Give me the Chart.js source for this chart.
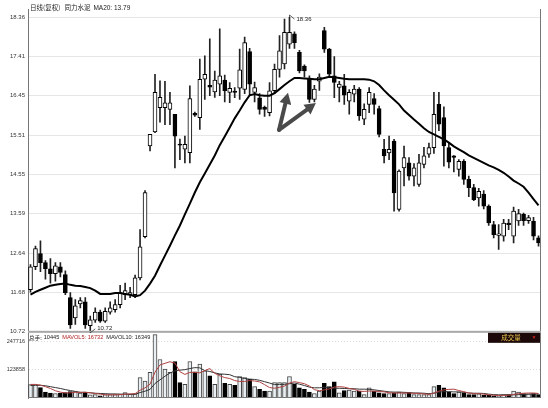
<!DOCTYPE html>
<html><head><meta charset="utf-8">
<script src="https://cdn.jsdelivr.net/npm/chart.js@4/dist/chart.umd.min.js"></script>
<style>html,body{margin:0;padding:0;background:#fff;}canvas{display:block;}</style>
</head><body>
<canvas id="c" width="548" height="408"></canvas>
<script>
// ---- data ----
const monthLabels = ['01','02','03','04','05','06'];
const monthStarts = [0, 18, 33, 56, 74, 95];
const priceTicks = [10.72, 11.675, 12.63, 13.585, 14.54, 15.495, 16.45, 17.405, 18.36];
const priceTickLabels = ['10.72','11.68','12.64','13.59','14.55','15.51','16.45','17.41','18.36'];
const volTicks = [123858, 247716];
const volTickLabels = ['123858','247716'];

const opens = [11.74,12.30,12.62,12.40,12.25,12.13,12.30,12.11,11.55,11.06,11.40,11.45,10.87,11.00,11.20,10.98,11.20,11.26,11.38,11.62,11.62,11.62,12.03,13.03,
15.23,15.57,16.16,16.16,16.12,16.00,15.27,15.15,15.07,16.02,15.92,16.85,16.70,16.54,16.73,16.83,16.53,16.56,16.63,16.60,17.52,16.53,16.40,16.17,16.04,16.57,17.09,17.22,17.70,17.95,17.50,17.17,16.85,16.36,16.80,18.03,17.58,16.93,16.65,16.69,16.32,16.49,16.61,15.88,16.24,16.38,16.14,15.15,15.06,15.35,13.69,14.70,14.82,14.50,14.30,14.78,15.03,15.19,16.24,15.92,15.19,14.99,14.66,14.86,14.42,14.22,13.97,14.06,13.77,13.32,13.06,13.04,13.36,13.04,13.41,13.57,13.42,13.40,13.00];
const highs = [12.35,12.80,12.93,12.45,12.50,12.40,12.40,12.20,11.67,11.50,11.55,11.55,11.10,11.30,11.25,11.30,11.45,11.50,11.85,11.90,11.80,12.10,13.20,14.15,
15.51,16.97,16.81,16.80,16.53,16.00,15.40,15.47,16.69,16.05,17.34,17.42,17.83,17.05,18.07,16.95,16.77,16.65,17.58,17.87,17.60,16.78,16.50,16.20,16.77,17.22,17.91,18.31,18.36,18.00,17.55,17.20,16.93,16.70,16.98,18.11,17.60,17.40,16.80,16.97,16.60,16.70,16.65,16.25,16.65,16.50,16.20,15.39,15.47,15.39,14.65,15.23,14.95,14.80,15.03,15.20,15.30,16.53,16.53,16.18,15.30,15.00,14.90,14.90,14.50,14.30,14.20,14.15,13.80,13.40,13.32,13.45,13.45,13.75,13.69,13.60,13.55,13.50,13.05];
const lows = [11.68,12.23,12.18,12.00,11.90,11.95,12.05,11.62,10.80,10.90,11.30,10.80,10.72,10.95,10.95,10.95,11.15,11.20,11.30,11.50,11.55,11.55,11.98,13.00,
15.11,15.55,15.81,15.75,15.75,14.70,14.90,14.82,14.82,15.95,15.63,16.36,16.45,16.41,16.45,16.30,16.28,16.40,16.36,16.50,16.45,16.30,16.00,15.95,15.96,16.50,16.90,17.10,17.60,17.60,17.00,16.90,16.29,16.30,16.58,17.50,16.90,16.40,16.30,16.24,16.00,16.30,15.85,15.75,16.04,16.00,15.45,14.82,14.90,13.65,13.65,14.26,14.40,14.26,14.25,14.70,14.95,15.05,15.60,14.74,14.70,14.60,14.50,14.30,14.00,13.90,13.77,13.70,13.30,13.00,12.72,12.92,13.20,12.88,13.30,13.30,13.35,12.95,12.80];
const closes = [12.30,12.74,12.40,12.25,12.13,12.32,12.16,11.67,10.89,11.35,11.48,10.89,11.01,11.20,10.98,11.22,11.30,11.38,11.67,11.72,11.67,12.03,12.78,14.10,
15.51,16.53,16.41,16.28,16.28,15.47,15.25,15.27,16.38,15.98,16.85,16.97,16.66,16.83,16.93,16.57,16.63,16.53,17.08,17.74,16.73,16.65,16.12,16.12,16.57,17.09,17.54,17.99,17.99,17.74,17.05,17.05,16.36,16.61,16.90,17.58,16.97,16.77,16.73,16.46,16.53,16.61,15.96,16.12,16.53,16.24,15.51,14.99,15.15,14.09,14.62,14.95,14.50,14.70,14.82,14.99,15.19,16.00,15.76,15.23,14.84,14.95,14.86,14.42,14.22,13.93,14.13,13.77,13.36,13.08,13.10,13.36,13.32,13.65,13.59,13.42,13.49,13.04,12.88];
const ma20 = [11.62,11.69,11.74,11.79,11.84,11.86,11.88,11.89,11.86,11.84,11.83,11.81,11.78,11.72,11.64,11.64,11.64,11.66,11.66,11.64,11.62,11.58,11.61,11.72,
11.89,12.08,12.33,12.57,12.81,13.06,13.30,13.57,13.83,14.10,14.35,14.56,14.78,15.00,15.25,15.46,15.68,15.90,16.09,16.29,16.46,16.49,16.46,16.45,16.45,16.51,16.61,16.71,16.80,16.88,16.88,16.87,16.86,16.85,16.85,16.88,16.91,16.90,16.88,16.86,16.85,16.85,16.85,16.85,16.84,16.80,16.71,16.58,16.46,16.35,16.24,16.09,15.98,15.87,15.77,15.66,15.57,15.51,15.45,15.39,15.31,15.22,15.15,15.08,15.00,14.94,14.88,14.82,14.76,14.71,14.65,14.58,14.49,14.39,14.32,14.24,14.10,13.94,13.79];
const volumes = [59000,59000,46000,26000,22000,20000,22000,24000,28000,28000,22000,26000,14000,15000,10000,15000,15000,15000,17000,24000,17000,20000,90000,75000,
113000,280000,170000,128000,113000,161000,68000,60000,161000,116000,150000,120000,98000,60000,105000,65000,60000,56000,95000,90000,83000,50000,38000,30000,30000,68000,68000,68000,95000,60000,45000,38000,26000,20000,30000,65000,50000,71000,23000,33000,35000,30000,30000,15000,45000,30000,23000,20000,20000,23000,26000,20000,23000,15000,15000,15000,15000,50000,56000,45000,26000,20000,26000,23000,15000,15000,18000,12000,12000,10000,10000,15000,15000,30000,26000,20000,18000,20000,15000];
const mavol5 = [60000,60000,57000,50000,42000,32000,26000,22000,23000,25000,25000,25000,23000,20000,17000,14000,14000,14000,15000,17000,18000,19000,34000,45000,
61000,114000,146000,153000,160000,154000,116000,104000,113000,113000,111000,121000,130000,109000,98000,90000,86000,77000,73000,73000,77000,75000,71000,59000,46000,43000,47000,53000,66000,72000,68000,63000,53000,37000,32000,36000,40000,48000,50000,48000,42000,38000,30000,29000,31000,30000,29000,27000,23000,22000,22000,22000,22000,21000,20000,18000,16000,22000,30000,36000,38000,39000,33000,28000,22000,20000,19000,17000,14000,12000,11000,12000,12000,16000,19000,21000,22000,22000,20000];
const mavol10 = [55000,56000,56000,54000,50000,46000,42000,37000,33000,29000,25000,25000,23000,21000,20000,19000,18000,18000,17000,17000,16000,16000,24000,30000,
38000,64000,80000,96000,110000,120000,123000,125000,130000,134000,133000,121000,117000,111000,106000,105000,103000,94000,91000,86000,83000,82000,78000,72000,66000,59000,60000,60000,63000,66000,61000,55000,48000,45000,45000,47000,45000,43000,43000,42000,41000,41000,39000,39000,38000,36000,33000,30000,27000,26000,26000,25000,24000,22000,22000,21000,19000,21000,26000,28000,28000,27000,27000,25000,22000,21000,21000,20000,17000,15000,14000,14000,14000,14000,15000,16000,17000,18000,18000];
// annotation arrows (index, price)
const arrowFrom = [49.9, 15.62];
const arrowTips = [[51.7, 16.52], [57.3, 16.27]];

// ---- derived for the library ----
const labels = closes.map((_, i) => String(i + 1));
const up = closes.map((c, i) => c >= opens[i]);
const bodyData = opens.map((o, i) => [Math.min(o, closes[i]), Math.max(o, closes[i])]);
const wickData = lows.map((l, i) => [l, highs[i]]);
const FONT = "'Liberation Sans', Arial, sans-serif";
const CJK = "'Noto Sans CJK SC', 'Liberation Sans', sans-serif";

const decor = {
  id: 'decor',
  afterDraw(chart) {
    const ctx = chart.ctx, ca = chart.chartArea;
    const xs = chart.scales.x, ys = chart.scales.y, yv = chart.scales.yv;
    ctx.save();
    ctx.strokeStyle = '#777'; ctx.lineWidth = 1;
    ctx.beginPath();
    ctx.moveTo(ca.left + 0.5, 9); ctx.lineTo(ca.left + 0.5, ca.top);
    ctx.moveTo(ca.right - 0.5, 9); ctx.lineTo(ca.right - 0.5, ca.bottom);
    ctx.moveTo(ca.left, ca.bottom - 0.5); ctx.lineTo(ca.right, ca.bottom - 0.5);
    ctx.stroke();
    ctx.fillStyle = '#a8a8a8';
    ctx.fillRect(ca.left, yv.top - 1, ca.right - ca.left, 2);

    ctx.textBaseline = 'middle'; ctx.textAlign = 'left';
    ctx.fillStyle = '#222';
    let x = ca.left + 2;
    ctx.font = '6.5px ' + CJK;
    ctx.fillText('日线(复权)', x, 8); x += ctx.measureText('日线(复权)').width + 4;
    ctx.fillText('同力水泥', x, 8); x += ctx.measureText('同力水泥').width + 3;
    ctx.font = '6.5px ' + FONT;
    ctx.fillText('MA20: 13.79', x, 8.5);

    const vy = yv.top + 6;
    x = ca.left + 1;
    ctx.font = '5.6px ' + CJK; ctx.fillStyle = '#222';
    ctx.fillText('总手:', x, vy); x += ctx.measureText('总手:').width + 2;
    ctx.font = '5.6px ' + FONT;
    ctx.fillText('10445', x, vy); x += ctx.measureText('10445').width + 3;
    ctx.fillStyle = '#b02020';
    ctx.fillText('MAVOL5: 16732', x, vy); x += ctx.measureText('MAVOL5: 16732').width + 3;
    ctx.fillStyle = '#222';
    ctx.fillText('MAVOL10: 16349', x, vy);

    ctx.fillStyle = '#1c0808';
    ctx.fillRect(ca.right - 53, yv.top + 1, 52, 10);
    ctx.fillStyle = '#e8c850'; ctx.font = '6.5px ' + CJK; ctx.textAlign = 'center';
    ctx.fillText('成交量', ca.right - 30, yv.top + 6);
    ctx.fillStyle = '#d02020'; ctx.font = '5px ' + FONT;
    ctx.fillText('▼', ca.right - 7, yv.top + 6);

    let hi = 0, lo = 0;
    highs.forEach((h, i) => { if (h > highs[hi]) hi = i; });
    lows.forEach((l, i) => { if (l < lows[lo]) lo = i; });
    ctx.strokeStyle = '#333'; ctx.lineWidth = 0.8; ctx.fillStyle = '#222';
    ctx.font = '6px ' + FONT; ctx.textAlign = 'left';
    let px = xs.getPixelForValue(hi), py = ys.getPixelForValue(highs[hi]);
    ctx.beginPath(); ctx.moveTo(px, py); ctx.lineTo(px, py - 2); ctx.lineTo(px + 5, py + 2); ctx.stroke();
    ctx.fillText(highs[hi].toFixed(2), px + 7, py + 2);
    px = xs.getPixelForValue(lo); py = ys.getPixelForValue(lows[lo]);
    ctx.beginPath(); ctx.moveTo(px, py); ctx.lineTo(px, py + 1); ctx.lineTo(px + 5, py - 3); ctx.stroke();
    ctx.fillText(lows[lo].toFixed(2), px + 7, py - 3);

    const ox = xs.getPixelForValue(arrowFrom[0]), oy = ys.getPixelForValue(arrowFrom[1]);
    ctx.strokeStyle = '#4a4a4a'; ctx.fillStyle = '#4a4a4a'; ctx.lineWidth = 4; ctx.lineCap = 'round';
    arrowTips.forEach(t => {
      const tx = xs.getPixelForValue(t[0]), ty = ys.getPixelForValue(t[1]);
      const a = Math.atan2(ty - oy, tx - ox);
      const hl = 11, hw = 6;
      const bx = tx - hl * Math.cos(a), by = ty - hl * Math.sin(a);
      ctx.beginPath(); ctx.moveTo(ox, oy); ctx.lineTo(bx, by); ctx.stroke();
      ctx.beginPath();
      ctx.moveTo(tx, ty);
      ctx.lineTo(bx + hw * Math.sin(a), by - hw * Math.cos(a));
      ctx.lineTo(bx - hw * Math.sin(a), by + hw * Math.cos(a));
      ctx.closePath(); ctx.fill();
    });
    ctx.restore();
  }
};

new Chart(document.getElementById('c'), {
  type: 'bar',
  data: {
    labels,
    datasets: [
      { type: 'line', data: ma20, yAxisID: 'y', borderColor: '#000', borderWidth: 2, pointRadius: 0, order: 1 },
      { data: bodyData, yAxisID: 'y', backgroundColor: up.map(u => u ? '#fff' : '#000'), borderColor: '#000', borderWidth: 1, borderSkipped: false, barThickness: 4, grouped: false, minBarLength: 1, order: 2 },
      { data: wickData, yAxisID: 'y', backgroundColor: '#222', borderWidth: 0, barThickness: 1, grouped: false, order: 3 },
      { type: 'line', data: mavol5, yAxisID: 'yv', borderColor: '#b04040', borderWidth: 1, pointRadius: 0, order: 4 },
      { type: 'line', data: mavol10, yAxisID: 'yv', borderColor: '#333', borderWidth: 1, pointRadius: 0, order: 5 },
      { data: volumes, yAxisID: 'yv', backgroundColor: up.map(u => u ? '#e9eff2' : '#000'), borderColor: up.map(u => u ? '#444' : '#000'), borderWidth: 1, borderSkipped: false, barThickness: 4, grouped: false, order: 6 }
    ]
  },
  options: {
    responsive: false, animation: false, devicePixelRatio: 1,
    layout: { padding: { left: 0, right: 7, top: 17, bottom: 0 } },
    plugins: { legend: { display: false }, tooltip: { enabled: false } },
    scales: {
      x: {
        type: 'category', offset: true,
        grid: { display: false }, border: { display: false },
        ticks: { autoSkip: false, maxRotation: 0, minRotation: 0, padding: 1, color: '#333', font: { size: 5.5, family: FONT },
          callback: (v, i) => { const k = monthStarts.indexOf(i); return k >= 0 ? monthLabels[k] : ''; } },
        afterFit: s => { s.height = 10; }
      },
      y: {
        position: 'left', stack: 'panes', stackWeight: 314, weight: 2,
        min: 10.72, max: 18.36,
        afterBuildTicks: s => { s.ticks = priceTicks.map(v => ({ value: v })); },
        ticks: { padding: 3, color: '#333', font: { size: 6, family: FONT }, callback: (v, i) => priceTickLabels[i] },
        grid: { color: '#e6e6e6', drawTicks: false },
        border: { color: '#777' },
        afterFit: s => { s.width = 28; }
      },
      yv: {
        position: 'left', stack: 'panes', stackWeight: 66, weight: 1,
        min: 0, max: 292000,
        afterBuildTicks: s => { s.ticks = volTicks.map(v => ({ value: v })); },
        ticks: { padding: 3, color: '#333', font: { size: 5.5, family: FONT }, callback: (v, i) => volTickLabels[i] },
        grid: { color: '#dcdcdc', drawTicks: false },
        border: { color: '#777', dash: [1, 2] },
        afterFit: s => { s.width = 28; }
      }
    }
  },
  plugins: [decor]
});
</script>
</body></html>
